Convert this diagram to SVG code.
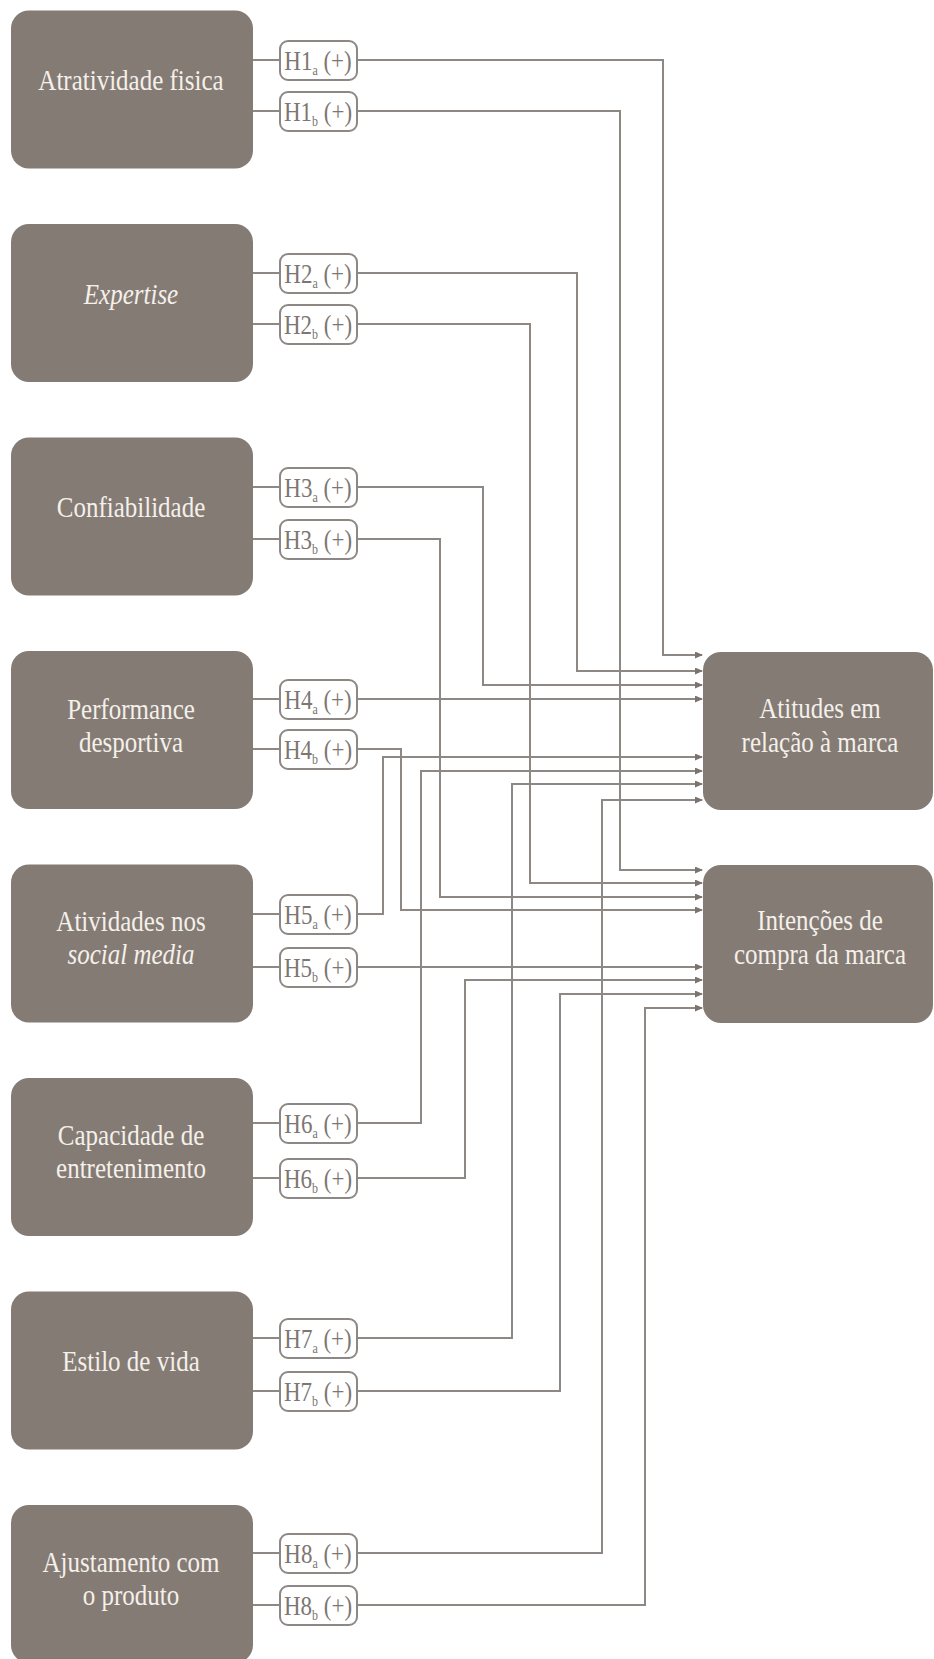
<svg xmlns="http://www.w3.org/2000/svg" width="934" height="1659" viewBox="0 0 934 1659">
<style>
.node{fill:#857b75}
.nt{fill:#f4f0ea;font-family:"Liberation Serif","Times New Roman",serif;font-size:25px;text-anchor:middle}
.it{font-style:italic}
.lb{fill:#ffffff;stroke:#8e8884;stroke-width:2}
.lt{fill:#7d7672;font-family:"Liberation Serif","Times New Roman",serif;font-size:23px;text-anchor:middle}
.sub{font-size:12px}
.c{fill:none;stroke:#8e8884;stroke-width:2}
.ca{fill:none;stroke:#8e8884;stroke-width:2;marker-end:url(#ah)}
</style>
<defs>
<marker id="ah" markerWidth="8" markerHeight="7" refX="7" refY="3.5" orient="auto" markerUnits="userSpaceOnUse">
<path d="M0,0 L8,3.5 L0,7 z" fill="#7a736f"/>
</marker>
</defs>
<rect width="934" height="1659" fill="#ffffff"/>

<g id="connectors">
<!-- stubs node -> label -->
<path class="c" d="M253,60H280M253,111H280M253,273H280M253,324H280M253,487H280M253,539H280M253,699H280M253,749H280M253,914H280M253,967H280M253,1123H280M253,1178H280M253,1338H280M253,1391H280M253,1553H280M253,1605H280"/>
<path class="ca" d="M357,60H663V655H702"/>
<path class="ca" d="M357,111H620V870H702"/>
<path class="ca" d="M357,273H577V671H702"/>
<path class="ca" d="M357,324H530V883H702"/>
<path class="ca" d="M357,487H483V685H702"/>
<path class="ca" d="M357,539H440V897H702"/>
<path class="ca" d="M357,699H702"/>
<path class="ca" d="M357,749H401V910H702"/>
<path class="ca" d="M357,914H383V757H702"/>
<path class="ca" d="M357,967H702"/>
<path class="ca" d="M357,1123H421V771H702"/>
<path class="ca" d="M357,1178H465V980H702"/>
<path class="ca" d="M357,1338H512V784H702"/>
<path class="ca" d="M357,1391H560V994H702"/>
<path class="ca" d="M357,1553H602V800H702"/>
<path class="ca" d="M357,1605H645V1008H702"/>
</g>

<g id="n1"><rect class="node" x="11" y="10.5" width="242" height="158" rx="18"/>
<text class="nt" transform="translate(131,90) scale(1,1.2)">Atratividade fisica</text></g>
<g id="n2"><rect class="node" x="11" y="224" width="242" height="158" rx="18"/>
<text class="nt it" transform="translate(131,304) scale(1,1.2)">Expertise</text></g>
<g id="n3"><rect class="node" x="11" y="437.5" width="242" height="158" rx="18"/>
<text class="nt" transform="translate(131,517) scale(1,1.2)">Confiabilidade</text></g>
<g id="n4"><rect class="node" x="11" y="651" width="242" height="158" rx="18"/>
<text class="nt" transform="translate(131,719) scale(1,1.2)">Performance</text>
<text class="nt" transform="translate(131,752) scale(1,1.2)">desportiva</text></g>
<g id="n5"><rect class="node" x="11" y="864.5" width="242" height="158" rx="18"/>
<text class="nt" transform="translate(131,931) scale(1,1.2)">Atividades nos</text>
<text class="nt it" transform="translate(131,964) scale(1,1.2)">social media</text></g>
<g id="n6"><rect class="node" x="11" y="1078" width="242" height="158" rx="18"/>
<text class="nt" transform="translate(131,1145) scale(1,1.2)">Capacidade de</text>
<text class="nt" transform="translate(131,1178) scale(1,1.2)">entretenimento</text></g>
<g id="n7"><rect class="node" x="11" y="1291.5" width="242" height="158" rx="18"/>
<text class="nt" transform="translate(131,1371) scale(1,1.2)">Estilo de vida</text></g>
<g id="n8"><rect class="node" x="11" y="1505" width="242" height="158" rx="18"/>
<text class="nt" transform="translate(131,1572) scale(1,1.2)">Ajustamento com</text>
<text class="nt" transform="translate(131,1605) scale(1,1.2)">o produto</text></g>

<g id="r1"><rect class="node" x="703" y="652" width="230" height="158" rx="18"/>
<text class="nt" transform="translate(820,718) scale(1,1.2)">Atitudes em</text>
<text class="nt" transform="translate(820,752) scale(1,1.2)">relação à marca</text></g>
<g id="r2"><rect class="node" x="703" y="865" width="230" height="158" rx="18"/>
<text class="nt" transform="translate(820,930) scale(1,1.2)">Intenções de</text>
<text class="nt" transform="translate(820,964) scale(1,1.2)">compra da marca</text></g>

<g id="labels">
<g id="l1a"><rect class="lb" x="280" y="41" width="77" height="39" rx="8"/><text class="lt" transform="translate(318,70) scale(1,1.2)">H1<tspan class="sub" dy="4">a</tspan><tspan dy="-4"> (+)</tspan></text></g>
<g id="l1b"><rect class="lb" x="280" y="92" width="77" height="39" rx="8"/><text class="lt" transform="translate(318,121) scale(1,1.2)">H1<tspan class="sub" dy="4">b</tspan><tspan dy="-4"> (+)</tspan></text></g>
<g id="l2a"><rect class="lb" x="280" y="254" width="77" height="39" rx="8"/><text class="lt" transform="translate(318,283) scale(1,1.2)">H2<tspan class="sub" dy="4">a</tspan><tspan dy="-4"> (+)</tspan></text></g>
<g id="l2b"><rect class="lb" x="280" y="305" width="77" height="39" rx="8"/><text class="lt" transform="translate(318,334) scale(1,1.2)">H2<tspan class="sub" dy="4">b</tspan><tspan dy="-4"> (+)</tspan></text></g>
<g id="l3a"><rect class="lb" x="280" y="468" width="77" height="39" rx="8"/><text class="lt" transform="translate(318,497) scale(1,1.2)">H3<tspan class="sub" dy="4">a</tspan><tspan dy="-4"> (+)</tspan></text></g>
<g id="l3b"><rect class="lb" x="280" y="520" width="77" height="39" rx="8"/><text class="lt" transform="translate(318,549) scale(1,1.2)">H3<tspan class="sub" dy="4">b</tspan><tspan dy="-4"> (+)</tspan></text></g>
<g id="l4a"><rect class="lb" x="280" y="680" width="77" height="39" rx="8"/><text class="lt" transform="translate(318,709) scale(1,1.2)">H4<tspan class="sub" dy="4">a</tspan><tspan dy="-4"> (+)</tspan></text></g>
<g id="l4b"><rect class="lb" x="280" y="730" width="77" height="39" rx="8"/><text class="lt" transform="translate(318,759) scale(1,1.2)">H4<tspan class="sub" dy="4">b</tspan><tspan dy="-4"> (+)</tspan></text></g>
<g id="l5a"><rect class="lb" x="280" y="895" width="77" height="39" rx="8"/><text class="lt" transform="translate(318,924) scale(1,1.2)">H5<tspan class="sub" dy="4">a</tspan><tspan dy="-4"> (+)</tspan></text></g>
<g id="l5b"><rect class="lb" x="280" y="948" width="77" height="39" rx="8"/><text class="lt" transform="translate(318,977) scale(1,1.2)">H5<tspan class="sub" dy="4">b</tspan><tspan dy="-4"> (+)</tspan></text></g>
<g id="l6a"><rect class="lb" x="280" y="1104" width="77" height="39" rx="8"/><text class="lt" transform="translate(318,1133) scale(1,1.2)">H6<tspan class="sub" dy="4">a</tspan><tspan dy="-4"> (+)</tspan></text></g>
<g id="l6b"><rect class="lb" x="280" y="1159" width="77" height="39" rx="8"/><text class="lt" transform="translate(318,1188) scale(1,1.2)">H6<tspan class="sub" dy="4">b</tspan><tspan dy="-4"> (+)</tspan></text></g>
<g id="l7a"><rect class="lb" x="280" y="1319" width="77" height="39" rx="8"/><text class="lt" transform="translate(318,1348) scale(1,1.2)">H7<tspan class="sub" dy="4">a</tspan><tspan dy="-4"> (+)</tspan></text></g>
<g id="l7b"><rect class="lb" x="280" y="1372" width="77" height="39" rx="8"/><text class="lt" transform="translate(318,1401) scale(1,1.2)">H7<tspan class="sub" dy="4">b</tspan><tspan dy="-4"> (+)</tspan></text></g>
<g id="l8a"><rect class="lb" x="280" y="1534" width="77" height="39" rx="8"/><text class="lt" transform="translate(318,1563) scale(1,1.2)">H8<tspan class="sub" dy="4">a</tspan><tspan dy="-4"> (+)</tspan></text></g>
<g id="l8b"><rect class="lb" x="280" y="1586" width="77" height="39" rx="8"/><text class="lt" transform="translate(318,1615) scale(1,1.2)">H8<tspan class="sub" dy="4">b</tspan><tspan dy="-4"> (+)</tspan></text></g>
</g>
</svg>
